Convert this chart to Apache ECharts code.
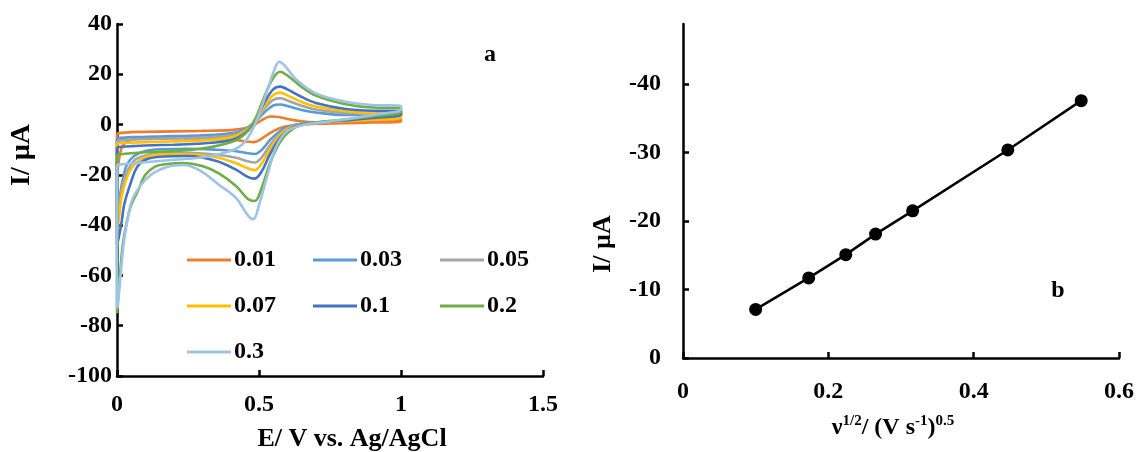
<!DOCTYPE html>
<html>
<head>
<meta charset="utf-8">
<style>
html, body { margin: 0; padding: 0; background: #fff; }
#main { width: 1138px; height: 452px; }
</style>
</head>
<body>
<div id="main"></div>
<script src="https://cdn.jsdelivr.net/npm/echarts@6/dist/echarts.min.js"></script>
<script>
// scan rates (V/s) and Excel-like colours
var scanRates = ['0.01', '0.03', '0.05', '0.07', '0.1', '0.2', '0.3'];
var scanColors = ['#ED7D31', '#5B9BD5', '#A5A5A5', '#FFC000', '#4472C4', '#70AD47', '#9DC3E6'];

// cyclic voltammograms, [E (V), I (uA)], forward scan then return scan
var cv001 = [[0,-3.5],[0.05,-3],[0.1,-2.9],[0.2,-2.7],[0.3,-2.5],[0.4,-2.2],[0.45,-1.5],[0.48,-0.3],[0.51,1.8],[0.54,3.2],[0.57,3.0],[0.6,2.2],[0.65,1.3],[0.7,0.9],[0.8,0.8],[0.9,1.2],[1.0,2.0],
  [1.0,1.2],[0.9,0.8],[0.8,0.5],[0.7,0.3],[0.62,-0.3],[0.57,-1.6],[0.53,-4.0],[0.5,-6.3],[0.48,-7.0],[0.46,-6.8],[0.42,-6.2],[0.35,-5.8],[0.25,-5.5],[0.15,-5.3],[0.08,-5.5],[0.04,-6.5],[0.02,-8.5],[0.01,-12],[0,-20],[0,-3.5]];
var cv003 = [[0,-5.5],[0.05,-5],[0.1,-4.9],[0.2,-4.6],[0.3,-4.3],[0.4,-3.5],[0.45,-1.8],[0.49,1.5],[0.52,5],[0.55,7.6],[0.575,8],[0.6,7.4],[0.65,5.8],[0.7,4.8],[0.8,3.8],[0.9,3.8],[1.0,4.2],
  [1.0,3.2],[0.9,2.2],[0.8,1.4],[0.7,0.8],[0.63,0],[0.58,-2.2],[0.54,-6],[0.51,-10],[0.485,-11.7],[0.46,-11.4],[0.42,-10.6],[0.35,-10],[0.25,-9.6],[0.15,-9.8],[0.1,-10.5],[0.06,-12.5],[0.035,-16],[0.02,-22],[0.008,-30],[0,-35],[0,-5.5]];
var cv005 = [[0,-6.5],[0.05,-6],[0.1,-5.8],[0.2,-5.5],[0.3,-5.2],[0.4,-4.3],[0.45,-2.3],[0.49,1.5],[0.52,6.5],[0.55,9.8],[0.575,10.5],[0.6,9.6],[0.65,7.5],[0.7,6.0],[0.8,4.6],[0.9,4.3],[1.0,4.8],
  [1.0,3.6],[0.9,2.4],[0.8,1.5],[0.7,0.8],[0.63,-0.2],[0.58,-3],[0.54,-8],[0.51,-13],[0.485,-15.1],[0.46,-14.6],[0.42,-13.2],[0.35,-12],[0.25,-11.2],[0.15,-11.3],[0.1,-12.3],[0.063,-14],[0.035,-19],[0.016,-26],[0.006,-34],[0,-40],[0,-6.5]];
var cv007 = [[0,-7.5],[0.05,-7.2],[0.1,-7],[0.2,-6.7],[0.3,-6.3],[0.4,-5.2],[0.45,-2.8],[0.49,1.8],[0.52,7.5],[0.55,11.8],[0.575,12.7],[0.6,11.6],[0.65,9],[0.7,7.2],[0.8,5.4],[0.9,4.6],[1.0,4.6],
  [1.0,2.8],[0.9,1.9],[0.8,1.3],[0.7,0.7],[0.63,-0.4],[0.58,-3.5],[0.54,-9.5],[0.51,-15.5],[0.485,-18.1],[0.46,-17.4],[0.42,-15.4],[0.35,-13],[0.25,-11.8],[0.15,-11.8],[0.1,-13],[0.06,-16],[0.035,-21],[0.016,-29],[0.006,-38],[0,-45],[0,-7.5]];
var cv01 = [[0,-9],[0.05,-8.6],[0.1,-8.3],[0.2,-8],[0.3,-7.5],[0.4,-6.2],[0.45,-3.5],[0.49,2],[0.52,9],[0.55,14],[0.575,15.1],[0.6,14],[0.65,11],[0.7,8.6],[0.8,6.3],[0.9,5.5],[1.0,5.4],
  [1.0,4],[0.9,2.6],[0.8,1.6],[0.7,0.8],[0.63,-0.6],[0.58,-4.5],[0.54,-11.5],[0.51,-18.5],[0.485,-21.5],[0.46,-20.8],[0.42,-18],[0.35,-14.5],[0.25,-12.5],[0.15,-12.8],[0.1,-14],[0.07,-17],[0.046,-24],[0.025,-32],[0.016,-39],[0.006,-45],[0,-48],[0,-9]];
var cv02 = [[0,-12],[0.05,-11.4],[0.1,-11],[0.2,-10.5],[0.3,-9.5],[0.4,-7],[0.45,-3.8],[0.49,3],[0.52,11.5],[0.55,18.5],[0.574,21],[0.6,19.5],[0.65,15],[0.7,11.5],[0.8,8.2],[0.9,6.8],[1.0,6.6],
  [1.0,5],[0.9,3.2],[0.8,2],[0.7,0.9],[0.63,-1],[0.58,-6],[0.54,-15],[0.51,-25],[0.485,-30.4],[0.46,-29.5],[0.42,-24.5],[0.36,-19.5],[0.3,-16.5],[0.23,-15.3],[0.17,-15.8],[0.134,-16.7],[0.1,-20],[0.075,-26],[0.05,-32],[0.034,-39],[0.02,-48],[0.011,-59],[0.004,-68],[0,-75],[0,-12]];
var cv03 = [[0,-16],[0.05,-15.5],[0.1,-15],[0.2,-14],[0.3,-13],[0.4,-10.5],[0.44,-8],[0.47,-3.5],[0.5,4],[0.53,14],[0.555,22],[0.571,25],[0.59,23.5],[0.633,17.7],[0.7,12.4],[0.8,9.2],[0.9,7.8],[1.0,7.4],
  [1.0,6],[0.9,3.8],[0.8,2],[0.7,0.6],[0.656,-0.2],[0.6,-2.5],[0.56,-9],[0.53,-20],[0.5,-32],[0.48,-37.6],[0.46,-36],[0.42,-29.3],[0.36,-24],[0.29,-18.1],[0.23,-16.1],[0.163,-17.4],[0.105,-21.4],[0.057,-29],[0.04,-36],[0.025,-46],[0.015,-57],[0.008,-66],[0.003,-72],[0,-73],[0,-16]];
var cvCurves = [cv001, cv003, cv005, cv007, cv01, cv02, cv03];

// panel b: square root of scan rate vs cathodic peak current
var sqrtRate = [0.1, 0.173, 0.224, 0.265, 0.316, 0.447, 0.548];
var peakCurrent = [-7.1, -11.7, -15.1, -18.1, -21.5, -30.4, -37.6];

var fontFam = '"Liberation Serif", "Times New Roman", serif';
var lbl = { color: '#000', fontFamily: fontFam, fontWeight: 'bold', fontSize: 24 };
var axLine = { onZero: false, lineStyle: { color: '#000', width: 2.5 } };
var axTick = { inside: true, length: 6, lineStyle: { color: '#000', width: 2.5 } };

var myChart = echarts.init(document.getElementById('main'));

var series = cvCurves.map(function (pts, i) {
	return {
		name: scanRates[i],
		type: 'line',
		xAxisIndex: 0,
		yAxisIndex: 0,
		data: pts,
		showSymbol: false,
		symbol: 'none',
		smooth: 0.35,
		lineStyle: { color: scanColors[i], width: 2.6 },
		itemStyle: { color: scanColors[i] }
	};
});
series.push({
	name: 'peak',
	type: 'line',
	xAxisIndex: 1,
	yAxisIndex: 1,
	data: sqrtRate.map((v, i) => [v, peakCurrent[i]]),
	symbol: 'circle',
	symbolSize: 13,
	lineStyle: { color: '#000', width: 2.5 },
	itemStyle: { color: '#000' }
});

function legendCol(left, names) {
	return {
		orient: 'vertical',
		left: left,
		top: 243,
		data: names,
		icon: 'rect',
		itemWidth: 44,
		itemHeight: 3,
		itemGap: 22,
		textStyle: Object.assign({}, lbl, { padding: [0, 0, 0, -2] }),
		selectedMode: false
	};
}

myChart.setOption({
	animation: false,
	backgroundColor: '#fff',
	grid: [
		{ left: 117, right: 595, top: 24, bottom: 76, containLabel: false, outerBoundsMode: 'none' },
		{ left: 683, right: 19, top: 24, bottom: 94, containLabel: false, outerBoundsMode: 'none' }
	],
	legend: [
		legendCol(182, ['0.01', '0.07', '0.3']),
		legendCol(308, ['0.03', '0.1']),
		legendCol(435, ['0.05', '0.2'])
	],
	xAxis: [
		{
			gridIndex: 0, type: 'value', min: 0, max: 1.5, interval: 0.5,
			axisLine: axLine, axisTick: axTick, splitLine: { show: false },
			axisLabel: Object.assign({ margin: 17 }, lbl),
			name: 'E/ V vs. Ag/AgCl', nameLocation: 'middle', nameGap: 50,
			nameTextStyle: Object.assign({}, lbl, { fontSize: 26, padding: [0, 0, 0, 44] })
		},
		{
			gridIndex: 1, type: 'value', min: 0, max: 0.6, interval: 0.2,
			axisLine: axLine, axisTick: axTick, splitLine: { show: false },
			axisLabel: Object.assign({ margin: 22 }, lbl),
			name: '{m|ν}{s|1/2}{m|/ (V s}{s|-1}{m|)}{s|0.5}', nameLocation: 'middle', nameGap: 56,
			nameTextStyle: {
				padding: [0, 16, 0, 0],
				rich: {
					m: { fontFamily: fontFam, fontWeight: 'bold', fontSize: 24, color: '#000', lineHeight: 28 },
					s: { fontFamily: fontFam, fontWeight: 'bold', fontSize: 15, color: '#000', verticalAlign: 'top', lineHeight: 28 }
				}
			}
		}
	],
	yAxis: [
		{
			gridIndex: 0, type: 'value', min: -100, max: 40, interval: 20,
			axisLine: axLine, axisTick: axTick, splitLine: { show: false },
			axisLabel: Object.assign({ margin: 5 }, lbl)
		},
		{
			gridIndex: 1, type: 'value', min: -48.8, max: 0, inverse: true,
			axisLine: axLine, splitLine: { show: false },
			axisTick: Object.assign({ customValues: [0, -10, -20, -30, -40] }, axTick),
			axisLabel: Object.assign({ margin: 22, customValues: [0, -10, -20, -30, -40] }, lbl)
		}
	],
	graphic: [
		{ type: 'text', x: 22, y: 155, rotation: Math.PI / 2,
		  style: { text: 'I/ µA', fill: '#000', font: 'bold 28px ' + fontFam, align: 'center', verticalAlign: 'middle' } },
		{ type: 'text', x: 603, y: 244, rotation: Math.PI / 2,
		  style: { text: 'I/ µA', fill: '#000', font: 'bold 26px ' + fontFam, align: 'center', verticalAlign: 'middle' } },
		{ type: 'text', x: 490, y: 55,
		  style: { text: 'a', fill: '#000', font: 'bold 24px ' + fontFam, align: 'center', verticalAlign: 'middle' } },
		{ type: 'text', x: 1058, y: 291,
		  style: { text: 'b', fill: '#000', font: 'bold 24px ' + fontFam, align: 'center', verticalAlign: 'middle' } }
	],
	series: series
});
</script>
</body>
</html>
